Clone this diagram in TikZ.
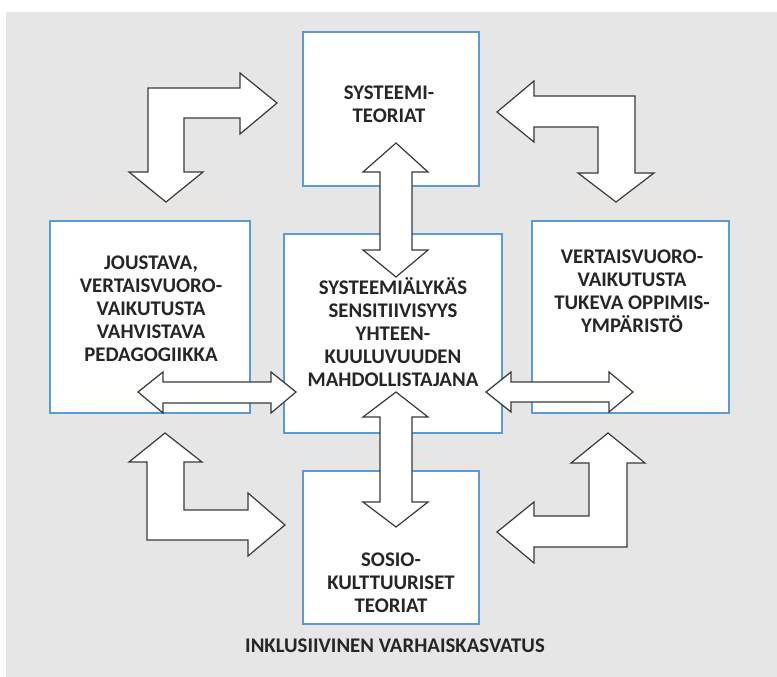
\documentclass[tikz,border=0pt]{standalone}
\usepackage{fontspec}
\setmainfont{Carlito}
\usetikzlibrary{positioning}
\definecolor{bggray}{HTML}{E6E6E6}
\definecolor{boxblue}{HTML}{5B9BD5}
\definecolor{arrowgray}{HTML}{3A3A3A}
\definecolor{txtgray}{HTML}{262626}
\begin{document}
\begin{tikzpicture}[x=1pt,y=-1pt,
  box/.style={draw=boxblue,line width=1.5pt,fill=white,inner sep=0pt},
  txt/.style={font=\bfseries\fontsize{20.8}{23}\selectfont,text=txtgray,align=center,inner sep=0pt},
  blk/.style={draw=arrowgray,fill=white,line width=1.2pt,line join=miter}]
\useasboundingbox (0,0) rectangle (777,677);
\fill[bggray] (6,12) rectangle (777,677);
\node[box,minimum width=176pt,minimum height=154pt] (sys) at (391,109) {};
\node[box,minimum width=200pt,minimum height=192pt] (ped) at (150,317) {};
\node[box,minimum width=218pt,minimum height=199pt] (sens) at (393,333.5) {};
\node[box,minimum width=197pt,minimum height=192pt] (env) at (630.5,317) {};
\node[box,minimum width=176pt,minimum height=153pt] (soc) at (391,547.5) {};
\node[txt] (sys-t) at (389,104) {SYSTEEMI-\\TEORIAT};
\node[txt] (ped-t) at (151,309) {JOUSTAVA,\\VERTAISVUORO-\\VAIKUTUSTA\\VAHVISTAVA\\PEDAGOGIIKKA};
\node[txt] (sens-t) at (393,332) {SYSTEEMIÄLYKÄS\\SENSITIIVISYYS\\YHTEEN-\\KUULUVUUDEN\\MAHDOLLISTAJANA};
\node[txt] (env-t) at (632,291) {VERTAISVUORO-\\VAIKUTUSTA\\TUKEVA OPPIMIS-\\YMPÄRISTÖ};
\node[txt] (soc-t) at (391,583) {SOSIO-\\KULTTUURISET\\TEORIAT};
\node[txt] (incl) at (395,646) {INKLUSIIVINEN VARHAISKASVATUS};
\draw[blk] (277,103) -- (240,73) -- (240,88) -- (148,88) -- (148,172) -- (129,172) -- (166,202) -- (203,172) -- (184,172) -- (184,118) -- (240,118) -- (240,134) -- cycle;
\draw[blk] (497,112) -- (534,81) -- (534,96) -- (635,96) -- (635,173) -- (654,173) -- (616,202) -- (578,173) -- (598,173) -- (598,127) -- (534,127) -- (534,142) -- cycle;
\draw[blk] (165,433) -- (202,462) -- (184,462) -- (184,510) -- (248,510) -- (248,493) -- (285,525) -- (248,556) -- (248,540) -- (147,540) -- (147,462) -- (129,462) -- cycle;
\draw[blk] (608,433) -- (645,463) -- (627,463) -- (627,547) -- (534,547) -- (534,563) -- (497,532) -- (534,502) -- (534,516) -- (589,516) -- (589,463) -- (571,463) -- cycle;
\draw[blk] (396,143) -- (428,172) -- (412,172) -- (412,250) -- (428,250) -- (396,277) -- (363,250) -- (380,250) -- (380,172) -- (363,172) -- cycle;
\draw[blk] (396,392) -- (428,417) -- (412,417) -- (412,502) -- (428,502) -- (396,527) -- (363,502) -- (380,502) -- (380,417) -- (363,417) -- cycle;
\draw[blk] (138,392) -- (163,372) -- (163,382) -- (271,382) -- (271,372) -- (296,392) -- (271,413) -- (271,403) -- (163,403) -- (163,413) -- cycle;
\draw[blk] (486,392) -- (511,372) -- (511,382) -- (609,382) -- (609,372) -- (633,392) -- (609,412) -- (609,402) -- (511,402) -- (511,412) -- cycle;
\end{tikzpicture}
\end{document}
